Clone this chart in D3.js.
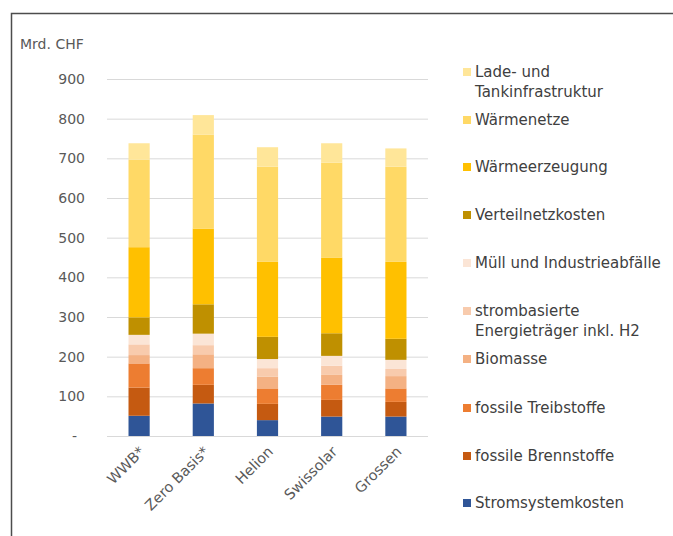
<!DOCTYPE html>
<html>
<head>
<meta charset="utf-8">
<script src="https://cdn.jsdelivr.net/npm/d3@7"></script>
<style>
  body { margin: 0; background: #fff; }
  svg text { font-family: "DejaVu Sans", sans-serif; fill: #595959; }
</style>
</head>
<body>
<div id="chart"></div>
<script>
// categories (scenarios)
const scenarios = ["WWB*", "Zero Basis*", "Helion", "Swissolar", "Grossen"];

// series, stacked bottom -> top
const seriesNames = [
  "Stromsystemkosten",
  "fossile Brennstoffe",
  "fossile Treibstoffe",
  "Biomasse",
  "strombasierte Energieträger inkl. H2",
  "Müll und Industrieabfälle",
  "Verteilnetzkosten",
  "Wärmeerzeugung",
  "Wärmenetze",
  "Lade- und Tankinfrastruktur"
];
const seriesColors = [
  "#2f5597", "#c55a11", "#ed7d31", "#f4b183", "#f8cbad",
  "#fbe5d6", "#bf9000", "#ffc000", "#ffd966", "#ffe699"
];

// values in Mrd. CHF, one array per series, in scenario order
const stromsystem   = [51, 82, 40, 49, 49];
const fossilBrenn   = [71, 47, 41, 42, 37];
const fossilTreib   = [61, 42, 39, 38, 34];
const biomasse      = [21, 35, 30, 25, 31];
const strombasiert  = [27, 23, 21, 23, 18];
const muell         = [24, 29, 23, 25, 23];
const verteilnetz   = [44, 74, 56, 57, 53];
const waermeerz     = [177, 191, 189, 191, 194];
const waermenetze   = [221, 237, 240, 239, 240];
const ladeTank      = [41, 49, 49, 49, 46];

const yTicks = [0, 100, 200, 300, 400, 500, 600, 700, 800, 900];

const seriesValues = [stromsystem, fossilBrenn, fossilTreib, biomasse, strombasiert,
  muell, verteilnetz, waermeerz, waermenetze, ladeTank];

const width = 673, height = 536;

const svg = d3.select("#chart").append("svg")
  .attr("width", width)
  .attr("height", height);

// outer frame
svg.append("rect")
  .attr("x", 11.5).attr("y", 13.5)
  .attr("width", width + 20).attr("height", height + 20)
  .attr("fill", "none")
  .attr("stroke", "#4d4d4d")
  .attr("stroke-width", 1.5);

const x = d3.scaleBand()
  .domain(scenarios)
  .range([107, 428])
  .paddingInner(0.67)
  .paddingOuter(0.335);

const y = d3.scaleLinear()
  .domain([0, 900])
  .range([436, 79]);

// gridlines
svg.append("g")
  .selectAll("line")
  .data(yTicks)
  .join("line")
  .attr("x1", 107).attr("x2", 428)
  .attr("y1", d => y(d) + 0.5).attr("y2", d => y(d) + 0.5)
  .attr("stroke", "#d9d9d9")
  .attr("stroke-width", 1);

// y axis labels
const gy = svg.append("g")
  .attr("transform", "translate(85,0)")
  .call(d3.axisLeft(y).tickValues(yTicks).tickSize(0).tickPadding(0)
    .tickFormat(d => d === 0 ? "-" : d));
gy.select(".domain").remove();
gy.selectAll("text")
  .style("font-size", "14px")
  .attr("fill", "#595959")
  .attr("dx", d => d === 0 ? -8 : 0);

svg.append("text")
  .attr("x", 20).attr("y", 49)
  .style("font-size", "14px")
  .text("Mrd. CHF");

// stacked data
const table = scenarios.map((s, i) => {
  const row = { scenario: s };
  seriesNames.forEach((n, j) => row[n] = seriesValues[j][i]);
  return row;
});
const stacked = d3.stack().keys(seriesNames)(table);

svg.append("g")
  .selectAll("g")
  .data(stacked)
  .join("g")
  .attr("fill", (d, i) => seriesColors[i])
  .selectAll("rect")
  .data(d => d)
  .join("rect")
  .attr("x", d => x(d.data.scenario))
  .attr("y", d => y(d[1]))
  .attr("width", x.bandwidth())
  .attr("height", d => y(d[0]) - y(d[1]));

// x axis labels, rotated
const gx = svg.append("g")
  .attr("transform", `translate(0,${y(0)})`)
  .call(d3.axisBottom(x).tickSize(0).tickPadding(0));
gx.select(".domain").remove();
gx.selectAll("text")
  .style("font-size", "14.5px")
  .attr("fill", "#595959")
  .attr("text-anchor", "end")
  .attr("dy", "0.35em")
  .attr("transform", "translate(3,13) rotate(-45)");

// legend
const legendY = [72, 120, 167, 215, 263, 311, 359, 408, 456, 503];
const legendLabels = [
  ["Lade- und", "Tankinfrastruktur"],
  ["Wärmenetze"],
  ["Wärmeerzeugung"],
  ["Verteilnetzkosten"],
  ["Müll und Industrieabfälle"],
  ["strombasierte", "Energieträger inkl. H2"],
  ["Biomasse"],
  ["fossile Treibstoffe"],
  ["fossile Brennstoffe"],
  ["Stromsystemkosten"]
];
const legendColors = seriesColors.slice().reverse();

const legend = svg.append("g")
  .selectAll("g")
  .data(legendLabels)
  .join("g")
  .attr("transform", (d, i) => `translate(463,${legendY[i]})`);

legend.append("rect")
  .attr("x", 0).attr("y", -4)
  .attr("width", 8).attr("height", 8)
  .attr("fill", (d, i) => legendColors[i]);

legend.append("text")
  .style("font-size", "15px")
  .style("fill", "#404040")
  .selectAll("tspan")
  .data(d => d)
  .join("tspan")
  .attr("x", 12)
  .attr("y", (d, i) => i * 20)
  .attr("dy", "0.35em")
  .text(d => d);
</script>
</body>
</html>
